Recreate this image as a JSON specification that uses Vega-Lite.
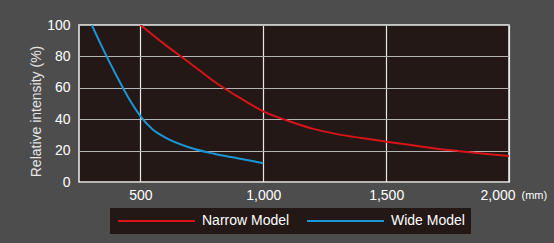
{
  "$schema": "https://vega.github.io/schema/vega-lite/v6.json",
  "width": 430,
  "height": 157,
  "autosize": {"type": "none"},
  "padding": {"left": 79, "top": 25, "right": 45, "bottom": 61},
  "background": "#4d4d4d",
  "config": {
    "view": {"fill": "#231815", "stroke": "#f0f0f0", "strokeWidth": 1.5},
    "font": "Liberation Sans"
  },
  "data": {
    "values": [
      {"model": "Narrow Model", "d": 500, "v": 100},
      {"model": "Narrow Model", "d": 600, "v": 87.5},
      {"model": "Narrow Model", "d": 700, "v": 76},
      {"model": "Narrow Model", "d": 800, "v": 64},
      {"model": "Narrow Model", "d": 900, "v": 54},
      {"model": "Narrow Model", "d": 1000, "v": 45},
      {"model": "Narrow Model", "d": 1100, "v": 39},
      {"model": "Narrow Model", "d": 1200, "v": 34},
      {"model": "Narrow Model", "d": 1300, "v": 30.5},
      {"model": "Narrow Model", "d": 1400, "v": 28},
      {"model": "Narrow Model", "d": 1500, "v": 25.7},
      {"model": "Narrow Model", "d": 1600, "v": 23.5},
      {"model": "Narrow Model", "d": 1700, "v": 21.3},
      {"model": "Narrow Model", "d": 1800, "v": 19.6},
      {"model": "Narrow Model", "d": 1900, "v": 18},
      {"model": "Narrow Model", "d": 2000, "v": 16.5},
      {"model": "Wide Model", "d": 302, "v": 100},
      {"model": "Wide Model", "d": 350, "v": 84},
      {"model": "Wide Model", "d": 400, "v": 68.5},
      {"model": "Wide Model", "d": 450, "v": 54},
      {"model": "Wide Model", "d": 500, "v": 42},
      {"model": "Wide Model", "d": 550, "v": 33.5},
      {"model": "Wide Model", "d": 600, "v": 28.5},
      {"model": "Wide Model", "d": 700, "v": 22},
      {"model": "Wide Model", "d": 800, "v": 18},
      {"model": "Wide Model", "d": 900, "v": 15},
      {"model": "Wide Model", "d": 1000, "v": 12}
    ]
  },
  "mark": {"type": "line", "strokeWidth": 2, "interpolate": "monotone", "clip": true},
  "encoding": {
    "x": {
      "field": "d",
      "type": "quantitative",
      "scale": {"domain": [250, 2000], "nice": false, "zero": false},
      "axis": {
        "values": [500, 1000, 1500, 2000],
        "format": ",.0f",
        "title": "(mm)",
        "titleX": 442,
        "titleY": 13,
        "titleAlign": "left",
        "titleBaseline": "middle",
        "titleFontSize": 11,
        "titleFontWeight": "normal",
        "titleColor": "#ffffff",
        "labelColor": "#ffffff",
        "labelFontSize": 14,
        "labelPadding": 6,
        "labelFlush": false,
        "labelAlign": {"condition": {"test": "datum.value == 2000", "value": "right"}, "value": "center"},
        "labelOffset": {"condition": {"test": "datum.value == 2000", "value": 6}, "value": 0},
        "ticks": false,
        "domain": false,
        "grid": true,
        "gridColor": "#e8e8e8",
        "gridOpacity": 1,
        "gridWidth": 1.2
      }
    },
    "y": {
      "field": "v",
      "type": "quantitative",
      "scale": {"domain": [0, 100], "nice": false},
      "axis": {
        "values": [0, 20, 40, 60, 80, 100],
        "title": "Relative intensity (%)",
        "titleColor": "#e6e6e6",
        "titleFontSize": 14,
        "titleFontWeight": "normal",
        "titlePadding": 3,
        "titleY": 86,
        "labelColor": "#ffffff",
        "labelFontSize": 14,
        "labelPadding": 9,
        "ticks": false,
        "domain": false,
        "grid": true,
        "gridColor": "#b4b4b4",
        "gridOpacity": 1,
        "gridWidth": 1.2
      }
    },
    "color": {
      "field": "model",
      "type": "nominal",
      "scale": {"domain": ["Narrow Model", "Wide Model"], "range": ["#d7141a", "#1a96d5"]},
      "legend": {
        "title": null,
        "orient": "none",
        "legendX": 31,
        "legendY": 183,
        "direction": "horizontal",
        "symbolType": "M-1,0H14.4",
        "symbolSize": 100,
        "symbolStrokeWidth": 2,
        "labelColor": "#ffffff",
        "labelFontSize": 14,
        "labelOffset": 72,
        "columnPadding": 13,
        "padding": 6,
        "fillColor": "#231815"
      }
    }
  }
}
